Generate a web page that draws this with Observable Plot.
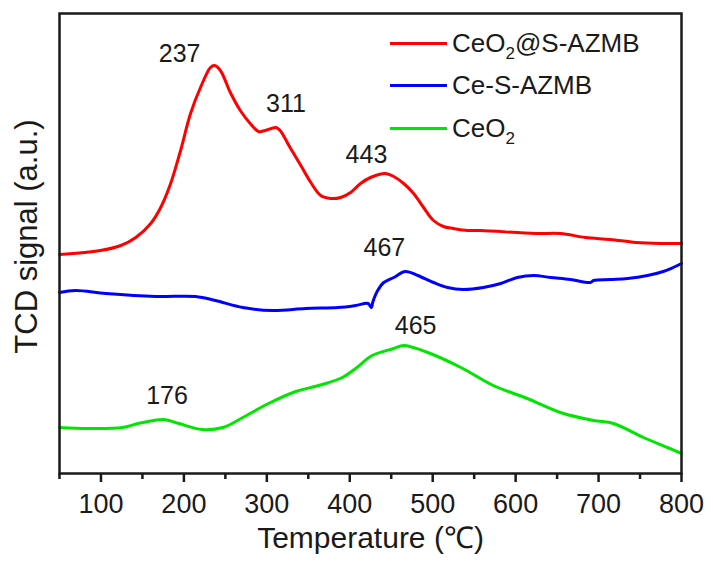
<!DOCTYPE html>
<html>
<head>
<meta charset="utf-8">
<script src="https://cdn.jsdelivr.net/npm/d3@7"></script>
<script src="https://cdn.jsdelivr.net/npm/@observablehq/plot@0.6"></script>
<style>
  body { margin: 0; background: #fff; }
  #chart { position: relative; width: 713px; height: 567px; font-family: "Liberation Sans", Arial, sans-serif; color: #1a1a1a; }
  #legend { position: absolute; left: 390px; top: 22px; }
  .row { display: flex; align-items: center; height: 42.5px; font-size: 26px; white-space: nowrap; }
  .swatch { width: 57px; height: 3px; margin-right: 5px; }
  .row sub { font-size: 17px; vertical-align: -7px; line-height: 0; }
</style>
</head>
<body>
<div id="chart"></div>
<script>
// H2-TPR profiles, temperature in °C and TCD signal in arbitrary units
const ceo2SAzmbT = [50, 99, 124, 142, 160, 172, 184, 196, 208, 220, 232, 237, 244, 256, 268, 280, 290, 298, 311, 316, 328, 341, 353, 365, 377, 389, 401, 413, 425, 443, 453, 465, 477, 489, 501, 513, 525, 542, 558, 624, 654, 684, 714, 745, 775, 800];
const ceo2SAzmbSignal = [219, 223, 228, 236, 250, 266, 290, 323, 360, 386, 406, 408, 403, 381, 363, 350, 342, 343, 346, 343, 326, 308, 291, 278, 275, 276, 281, 290, 296, 300, 297, 290, 280, 266, 253, 247, 245, 243, 243, 240, 240, 236, 234, 231, 230, 230];

const ceSAzmbT = [50, 69, 106, 166, 214, 238, 271, 307, 347, 386, 407, 422, 426, 428, 433, 441, 453, 467, 482, 501, 518, 537, 561, 582, 602, 622, 642, 666, 690, 694, 714, 735, 759, 778, 790, 800];
const ceSAzmbSignal = [181, 183, 180, 177, 177, 173, 166, 163, 165, 166, 168, 170, 166, 172, 182, 191, 196, 202, 198, 191, 186, 184, 186, 190, 196, 198, 196, 194, 191, 193, 194, 195, 198, 202, 206, 210];

const ceo2T = [50, 85, 126, 145, 176, 194, 222, 247, 271, 302, 335, 367, 391, 407, 427, 453, 465, 494, 534, 573, 614, 654, 694, 718, 754, 783, 800];
const ceo2Signal = [46, 45, 46, 50, 54, 50, 44, 46, 56, 70, 82, 89, 96, 105, 118, 125, 128, 121, 106, 88, 75, 61, 53, 50, 36, 26, 20];

const seriesNames = ["CeO2@S-AZMB", "Ce-S-AZMB", "CeO2"];
const seriesColors = ["#ff0000", "#0000ff", "#00e600"];

// Annotated peak temperatures (°C) and the curve each one belongs to
const peakSeries = [0, 0, 0, 1, 2, 2];
const peakTemps = [237, 311, 443, 467, 465, 176];

const majorTicks = [100, 200, 300, 400, 500, 600, 700, 800];
const minorTicks = [50, 150, 250, 350, 450, 550, 650, 750];

const temps = [ceo2SAzmbT, ceSAzmbT, ceo2T];
const signals = [ceo2SAzmbSignal, ceSAzmbSignal, ceo2Signal];

const rows = seriesNames.flatMap((name, i) =>
  temps[i].map((t, j) => ({series: name, T: t, S: signals[i][j]}))
);

const peaks = peakTemps.map((t, k) => {
  const i = peakSeries[k];
  const j = temps[i].indexOf(t);
  return {T: t, S: signals[i][j], label: String(t)};
});

// label offsets from each peak, in pixels
const labelOffsets = [[-35, -12], [10, -24], [-19, -19], [-21, -24], [12, -20], [3, -24]];

const ink = "#1a1a1a";
const font = "Liberation Sans, Arial, sans-serif";

const marks = [
  ...seriesNames.map((name, i) =>
    Plot.line(rows.filter(d => d.series === name), {
      x: "T", y: "S", stroke: seriesColors[i], strokeWidth: 3, curve: "catmull-rom"
    })
  ),
  ...peaks.map((p, k) =>
    Plot.text([p], {
      x: "T", y: "S", text: "label", dx: labelOffsets[k][0], dy: labelOffsets[k][1],
      fontSize: 25, fill: ink, lineAnchor: "middle"
    })
  ),
  Plot.frame({stroke: ink, strokeWidth: 2.5}),
  Plot.axisX({
    ticks: majorTicks, tickSize: 9, tickPadding: 11, fontSize: 27,
    strokeWidth: 2.5, stroke: ink, fill: ink, label: null
  }),
  Plot.axisX({
    ticks: minorTicks, tickSize: 6, tickFormat: () => "",
    strokeWidth: 2.5, stroke: ink, label: null
  }),
  Plot.text(["Temperature (℃)"], {
    text: d => d, frameAnchor: "bottom", dy: 65, fontSize: 30, fill: ink,
    textAnchor: "middle", lineAnchor: "middle"
  }),
  Plot.text(["TCD signal (a.u.)"], {
    text: d => d, frameAnchor: "left", dx: -32, dy: -7, rotate: -90, fontSize: 31, fill: ink,
    textAnchor: "middle", lineAnchor: "middle"
  })
];

const chart = Plot.plot({
  width: 713,
  height: 567,
  marginLeft: 59,
  marginRight: 32,
  marginTop: 13,
  marginBottom: 94,
  style: {fontFamily: font, background: "white", overflow: "visible"},
  x: {domain: [50, 800]},
  y: {domain: [0, 460], axis: null},
  marks
});

const container = document.getElementById("chart");
container.appendChild(chart);

// Legend drawn over the upper-right corner of the plot area
const legend = document.createElement("div");
legend.id = "legend";
const legendHtml = ["CeO<sub>2</sub>@S-AZMB", "Ce-S-AZMB", "CeO<sub>2</sub>"];
legendHtml.forEach((html, i) => {
  const row = document.createElement("div");
  row.className = "row";
  const sw = document.createElement("div");
  sw.className = "swatch";
  sw.style.background = seriesColors[i];
  const label = document.createElement("span");
  label.innerHTML = html;
  row.appendChild(sw);
  row.appendChild(label);
  legend.appendChild(row);
});
container.appendChild(legend);
</script>
</body>
</html>
